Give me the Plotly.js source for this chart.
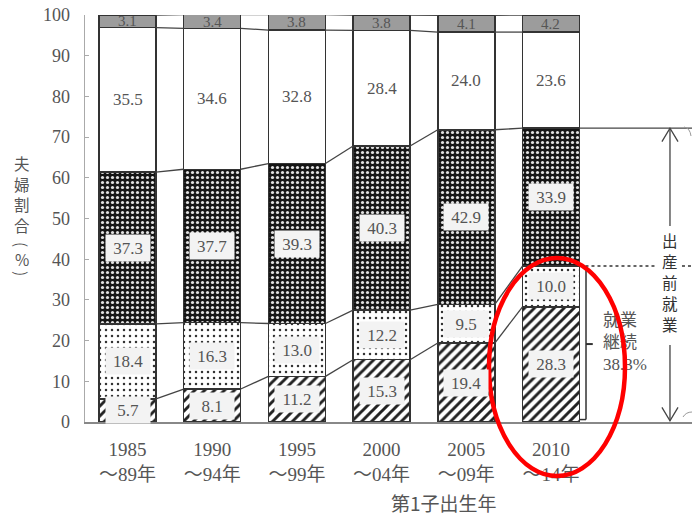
<!DOCTYPE html>
<html>
<head>
<meta charset="utf-8">
<script src="https://cdn.plot.ly/plotly-3.0.1.min.js"></script>
<style>html,body{margin:0;padding:0;background:#fff;}</style>
</head>
<body>
<div id="chart" style="width:692px;height:518px;"></div>
<script>
// 第1子出生年別にみた、出産前後の妻の就業変化（%）
const periods = ['1985<br>～89年', '1990<br>～94年', '1995<br>～99年', '2000<br>～04年', '2005<br>～09年', '2010<br>～14年'];
const withLeave    = [5.7, 8.1, 11.2, 15.3, 19.4, 28.3];    // 就業継続（育休利用）
const withoutLeave = [18.4, 16.3, 13.0, 12.2, 9.5, 10.0];  // 就業継続（育休なし）
const quitAtBirth  = [37.3, 37.7, 39.3, 40.3, 42.9, 33.9]; // 出産退職
const notEmployed  = [35.5, 34.6, 32.8, 28.4, 24.0, 23.6]; // 妊娠前から無職
const unknown      = [3.1, 3.4, 3.8, 3.8, 4.1, 4.2];       // 不詳
const yTicks = [0, 10, 20, 30, 40, 50, 60, 70, 80, 90, 100];
const xTitle = '第1子出生年';
const yTitleChars = ['夫', '婦', '割', '合', '(', '%', ')'];
const braceLabel = '出産前就業';
const continuedLabel = ['就業', '継続'];

const SERIF = '"Liberation Serif", "Noto Sans CJK JP", serif';
const CJK = '"Noto Sans CJK JP", sans-serif';
const TEXT = '#555';
const OUTLINE = '#333';
const W = 0.673;               // bar width in category units
const X_END = 6.665;           // right end of the x range

// plot-area pixel helpers for decorations drawn in paper space
const PL = 85, PR = 692, PT = 15, PB = 422;
const pxX = p => (p - PL) / (PR - PL);
const pxY = p => (PB - p) / (PB - PT);

const xs = periods.map((_, i) => i);

const series = [
  { name: '就業継続（育休利用）', y: withLeave, boxed: true,
    marker: { color: '#fff', pattern: { shape: '/', fgcolor: '#222', bgcolor: '#fff', size: 7, solidity: 0.42 } } },
  { name: '就業継続（育休なし）', y: withoutLeave, boxed: true,
    marker: { color: '#fff', pattern: { shape: '.', fgcolor: '#333', bgcolor: '#fff', size: 6, solidity: 0.14 } } },
  { name: '出産退職', y: quitAtBirth, boxed: true,
    marker: { color: '#1a1a1a', pattern: { shape: '.', fgcolor: '#e0e0e0', bgcolor: '#151515', size: 5, solidity: 0.32 } } },
  { name: '妊娠前から無職', y: notEmployed, boxed: false, marker: { color: '#fff' } },
  { name: '不詳', y: unknown, boxed: false, small: true, marker: { color: '#9c9c9c' } }
];

// cumulative bases for each stacked segment
const bases = [];
let run = xs.map(() => 0);
series.forEach(s => {
  bases.push(run.slice());
  run = run.map((v, i) => v + s.y[i]);
});
const tops = series.map((s, k) => bases[k].map((b, i) => b + s.y[i]));

const traces = series.map(s => ({
  type: 'bar', name: s.name, x: xs, y: s.y, width: W,
  marker: Object.assign({}, s.marker, { line: { color: OUTLINE, width: 1.5 } }),
  hoverinfo: 'skip'
}));

// lines joining segment boundaries of neighbouring bars
tops.forEach(level => {
  const lx = [], ly = [];
  for (let i = 0; i < xs.length - 1; i++) {
    lx.push(xs[i] + W / 2, xs[i + 1] - W / 2, null);
    ly.push(level[i], level[i + 1], null);
  }
  traces.push({ type: 'scatter', mode: 'lines', x: lx, y: ly,
    line: { color: '#444', width: 1.3 }, hoverinfo: 'skip', showlegend: false });
});

const last = xs.length - 1;
const continued = withLeave[last] + withoutLeave[last];
const employedBefore = continued + quitAtBirth[last];

// 就業継続 label beside the last bar
traces.push({
  type: 'scatter', mode: 'text', x: [last + 0.614], y: [continued / 2],
  text: [continuedLabel.join('<br>') + '<br>' + continued.toFixed(1) + '%'],
  textposition: 'middle right', cliponaxis: false,
  textfont: { family: SERIF, size: 17, color: TEXT }, hoverinfo: 'skip', showlegend: false
});

// segment value labels
const annotations = [];
series.forEach((s, k) => {
  s.y.forEach((v, i) => {
    const a = {
      x: xs[i], y: bases[k][i] + v / 2, xref: 'x', yref: 'y',
      xanchor: 'center', yanchor: 'middle',
      text: v.toFixed(1), showarrow: false,
      font: { family: SERIF, size: s.small ? 15 : 17, color: TEXT }
    };
    if (s.boxed) {
      Object.assign(a, { bgcolor: '#f3f3f3', width: 40, height: 22, borderpad: 2 });
    }
    annotations.push(a);
  });
});

// vertical y-axis title, one glyph per line; brackets turned for vertical writing
const yTitlePx = [163, 183.5, 204, 224.5, 244, 259, 273];
yTitleChars.forEach((c, j) => {
  annotations.push({
    x: pxX(22), y: pxY(yTitlePx[j]), xref: 'paper', yref: 'paper', showarrow: false,
    xanchor: 'center', yanchor: 'middle', borderpad: 0,
    text: c, textangle: (c === '(' || c === ')') ? 90 : 0,
    font: { family: CJK, size: 15.5, color: TEXT }
  });
});

// x-axis title
annotations.push({
  x: pxX(444), y: pxY(503), xref: 'paper', yref: 'paper', showarrow: false,
  xanchor: 'center', yanchor: 'middle',
  text: xTitle, font: { family: CJK, size: 19, color: TEXT }
});

// vertical 出産前就業 label between the two arrow halves
const arrowX = 6.405;
braceLabel.split('').forEach((c, j) => {
  annotations.push({
    x: arrowX, y: pxY(240 + j * 21), xref: 'x', yref: 'paper', showarrow: false,
    xanchor: 'center', yanchor: 'middle', borderpad: 0,
    text: c, font: { family: CJK, size: 15.5, color: '#333' }
  });
});

const edge = last + W / 2;
const bracketX = edge + 0.077;
const gapL = (657 - 127.5) / 84.7, gapR = (682 - 127.5) / 84.7;  // break around the vertical label
const shapes = [
  // 出産前就業 level
  { type: 'line', xref: 'x', yref: 'y', x0: edge, x1: X_END, y0: employedBefore, y1: employedBefore,
    line: { color: '#444', width: 1.3 } },
  // 就業継続 level (dotted, broken by the vertical label)
  { type: 'line', xref: 'x', yref: 'y', x0: edge, x1: gapL, y0: continued, y1: continued,
    line: { color: '#333', width: 1.5, dash: 'dot' } },
  { type: 'line', xref: 'x', yref: 'y', x0: gapR, x1: X_END, y0: continued, y1: continued,
    line: { color: '#333', width: 1.5, dash: 'dot' } },
  // 就業継続 bracket
  { type: 'line', xref: 'x', yref: 'y', x0: bracketX, x1: bracketX, y0: continued, y1: 0.6,
    line: { color: '#333', width: 1.5 } },
  { type: 'line', xref: 'x', yref: 'y', x0: edge, x1: bracketX, y0: 0.6, y1: 0.6,
    line: { color: '#333', width: 1.5 } },
  { type: 'line', xref: 'x', yref: 'y', x0: bracketX, x1: bracketX + 0.08, y0: continued / 2, y1: continued / 2,
    line: { color: '#333', width: 2 } },
  // double arrow for 出産前就業, split around its label
  { type: 'line', xref: 'x', yref: 'y', x0: arrowX, x1: arrowX, y0: employedBefore, y1: (422 - 226) / 4.07,
    line: { color: '#444', width: 1.3 } },
  { type: 'line', xref: 'x', yref: 'y', x0: arrowX, x1: arrowX, y0: (422 - 345) / 4.07, y1: 0.3,
    line: { color: '#444', width: 1.3 } },
  { type: 'path', xref: 'x', yref: 'y', line: { color: '#444', width: 1.3 },
    path: `M ${arrowX - 0.095},${employedBefore - 3.3} L ${arrowX},${employedBefore} L ${arrowX + 0.095},${employedBefore - 3.3}` },
  { type: 'path', xref: 'x', yref: 'y', line: { color: '#444', width: 1.3 },
    path: `M ${arrowX - 0.095},3.6 L ${arrowX},0.3 L ${arrowX + 0.095},3.6` },
  // brace tips at the right edge
  { type: 'path', xref: 'paper', yref: 'paper', line: { color: '#999', width: 1 },
    path: `M ${pxX(684)},${pxY(127)} Q ${pxX(690)},${pxY(128)} ${pxX(691)},${pxY(136)}` },
  { type: 'path', xref: 'paper', yref: 'paper', line: { color: '#999', width: 1 },
    path: `M ${pxX(683)},${pxY(417)} Q ${pxX(686)},${pxY(412)} ${pxX(692)},${pxY(412)}` },
  // red highlight around the latest period
  { type: 'circle', xref: 'paper', yref: 'paper', layer: 'above',
    x0: pxX(489), x1: pxX(625), y0: pxY(476), y1: pxY(258),
    line: { color: '#ff0000', width: 4.5 } }
];

const layout = {
  width: 692, height: 518,
  margin: { l: PL, r: 692 - PR, t: PT, b: 518 - PB },
  paper_bgcolor: '#fff', plot_bgcolor: '#fff',
  barmode: 'stack', showlegend: false,
  font: { family: SERIF, color: TEXT },
  xaxis: {
    range: [-0.502, X_END], tickvals: xs, ticktext: periods,
    showline: true, linecolor: '#888', linewidth: 1.5,
    ticks: '', showgrid: false, zeroline: false, ticklabelstandoff: 10,
    tickfont: { family: SERIF, size: 19, color: TEXT }, fixedrange: true
  },
  yaxis: {
    range: [0, 100], tickvals: yTicks,
    showline: true, linecolor: '#aaa', linewidth: 1.5,
    ticks: 'inside', ticklen: 4, tickcolor: '#aaa', tickwidth: 1.2,
    showgrid: false, zeroline: false, ticklabelstandoff: 10,
    tickfont: { family: SERIF, size: 18, color: TEXT }, fixedrange: true
  },
  annotations: annotations,
  shapes: shapes
};

Plotly.newPlot('chart', traces, layout, { staticPlot: true, displayModeBar: false });
</script>
</body>
</html>
